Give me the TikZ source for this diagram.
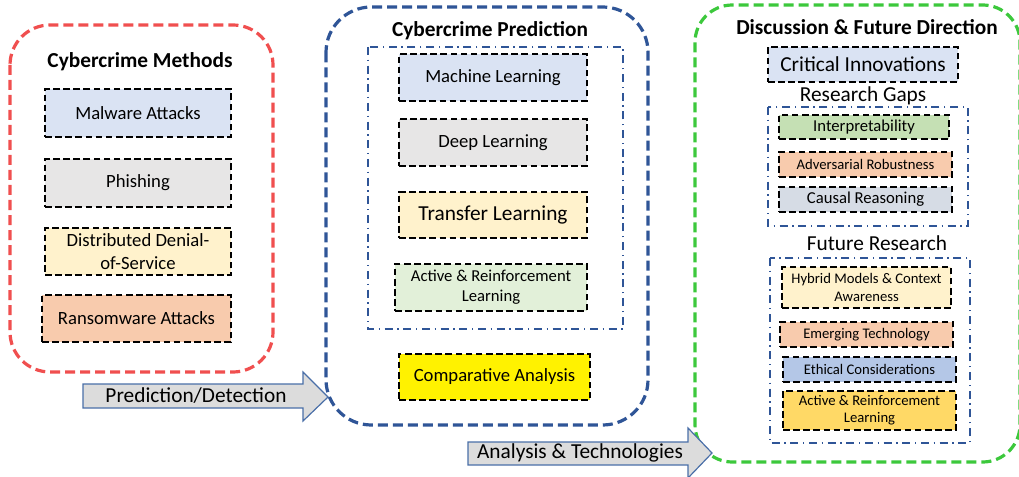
\documentclass[tikz,border=0pt]{standalone}
\usepackage{fontspec}
\setmainfont{Carlito}
\usepackage{tikz}

\definecolor{methred}{HTML}{F04F4F}
\definecolor{predblue}{HTML}{2F5597}
\definecolor{discgreen}{HTML}{3CC83C}
\definecolor{flowblue}{HTML}{4A6FA8}
\definecolor{flowgray}{HTML}{DCDCDC}
\definecolor{paleblue}{HTML}{DAE3F3}
\definecolor{palegray}{HTML}{E7E6E6}
\definecolor{paleyellow}{HTML}{FFF2CC}
\definecolor{peach}{HTML}{F8CBAD}
\definecolor{palegreen}{HTML}{E2F0D9}
\definecolor{softgreen}{HTML}{C5E0B4}
\definecolor{slate}{HTML}{D6DCE5}
\definecolor{skyblue}{HTML}{B4C7E7}
\definecolor{gold}{HTML}{FFD966}

\begin{document}
\begin{tikzpicture}[x=0.75pt,y=-0.75pt,
    item/.style={draw=black,line width=2.1pt,dash pattern=on 5pt off 2.6pt,align=center,inner sep=1pt},
    frame/.style={line width=2.4pt,dash pattern=on 7.5pt off 3.75pt},
    group/.style={draw=predblue,line width=1.6pt,dash pattern=on 6pt off 3.5pt on 1pt off 3.5pt},
    flow/.style={draw=flowblue,fill=flowgray,line width=0.9pt},
    title/.style={font=\bfseries\fontsize{16}{19}\selectfont},
    big/.style={font=\fontsize{16}{19}\selectfont},
    mid/.style={font=\fontsize{14}{17}\selectfont},
    small/.style={font=\fontsize{11}{13}\selectfont}]
    \useasboundingbox (0,0) rectangle (1019,477);

    % containers
    \draw[frame,draw=methred,rounded corners=30pt] (10,25) rectangle (273,372);
    \draw[frame,draw=predblue,rounded corners=34pt] (326,7) rectangle (648,425);
    \draw[frame,draw=discgreen,rounded corners=28pt] (695,5) rectangle (1020,462);
    \draw[group] (368,47) rectangle (623,329);
    \draw[group] (768,107) rectangle (968,226);
    \draw[group] (770,258) rectangle (970,443);

    % flow arrows
    \draw[flow] (83,384) -- (303,384) -- (303,372) -- (328,397) -- (303,421) -- (303,408) -- (83,408) -- cycle;
    \node[big] (detect) at (196,396) {Prediction/Detection};
    \draw[flow] (468,442) -- (688,442) -- (688,428) -- (712,453) -- (688,478) -- (688,465) -- (468,465) -- cycle;
    \node[big] (analysis) at (580,453) {Analysis \& Technologies};

    % cybercrime methods
    \node[title] (methods) at (140,62) {Cybercrime Methods};
    \node[item,mid,fill=paleblue,minimum width=139.5pt,minimum height=36pt] (malware) at (138,113) {Malware Attacks};
    \node[item,mid,fill=palegray,minimum width=139.5pt,minimum height=36pt] (phishing) at (138,183) {Phishing};
    \node[item,mid,fill=paleyellow,minimum width=139.5pt,minimum height=35.25pt] (ddos) at (138,251.5) {Distributed Denial-\\of-Service};
    \node[item,mid,fill=peach,minimum width=141.75pt,minimum height=35.25pt] (ransom) at (136.5,318.5) {Ransomware Attacks};

    % cybercrime prediction
    \node[title] (predict) at (490,31) {Cybercrime Prediction};
    \node[item,mid,fill=paleblue,minimum width=141pt,minimum height=35.25pt] (ml) at (493,77.5) {Machine Learning};
    \node[item,mid,fill=palegray,minimum width=141pt,minimum height=35.25pt] (dl) at (493,142.5) {Deep Learning};
    \node[item,big,fill=paleyellow,minimum width=141pt,minimum height=34.5pt] (tl) at (493,215) {Transfer Learning};
    \node[item,font=\fontsize{12.5}{15}\selectfont,fill=palegreen,minimum width=144pt,minimum height=35.25pt] (arl) at (491,287.5) {Active \& Reinforcement\\Learning};
    \node[item,mid,fill=yellow,minimum width=143.25pt,minimum height=34.5pt] (compare) at (494.5,377) {Comparative Analysis};

    % discussion and future direction
    \node[title] (discuss) at (867,27) {Discussion \& Future Direction};
    \node[item,big,fill=paleblue,minimum width=142.5pt,minimum height=26.25pt] (critical) at (863,64.5) {Critical Innovations};
    \node[big] (gaps) at (863,96) {Research Gaps};
    \node[item,font=\fontsize{12.5}{15}\selectfont,fill=softgreen,minimum width=127.5pt,minimum height=18pt] (interp) at (864,127) {Interpretability};
    \node[item,small,fill=peach,minimum width=129.75pt,minimum height=18.75pt] (robust) at (865.5,164.5) {Adversarial Robustness};
    \node[item,font=\fontsize{12.5}{15}\selectfont,fill=slate,minimum width=129.75pt,minimum height=18.75pt] (causal) at (865.5,199.5) {Causal Reasoning};
    \node[big] (future) at (877,243) {Future Research};
    \node[item,small,fill=paleyellow,minimum width=126.75pt,minimum height=30.75pt] (hybrid) at (866.5,287.5) {Hybrid Models \& Context\\Awareness};
    \node[item,small,fill=peach,minimum width=129.75pt,minimum height=18.75pt] (emerging) at (866.5,334.5) {Emerging Technology};
    \node[item,small,fill=skyblue,minimum width=129.75pt,minimum height=18.75pt] (ethics) at (869.5,369.5) {Ethical Considerations};
    \node[item,small,fill=gold,minimum width=129.75pt,minimum height=29.25pt] (arlfuture) at (869.5,410.5) {Active \& Reinforcement\\Learning};
\end{tikzpicture}
\end{document}
